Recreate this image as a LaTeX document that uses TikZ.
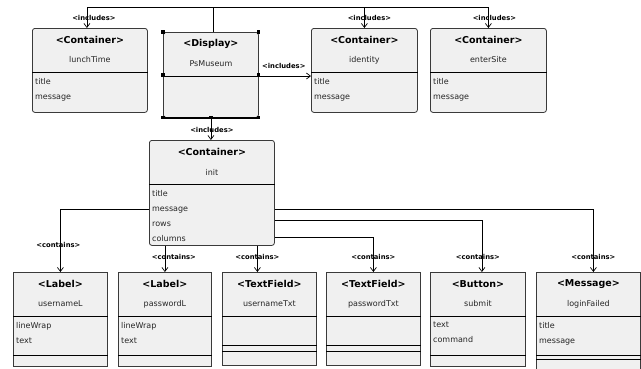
\documentclass[tikz,border=0pt]{standalone}
\usepackage{fontspec}
\setmainfont{DejaVu Sans}
\usetikzlibrary{arrows.meta,positioning,calc}
\definecolor{boxfill}{HTML}{F0F0F0}
\definecolor{boxline}{HTML}{3A3A3A}
\definecolor{tipgrey}{HTML}{777777}
\newcommand{\umlclass}[9]{%
  \node[classbox,#6,minimum width=#4,minimum height=#5] (#1) at (#2,#3) {};
  \draw[sepline] ([yshift=-44]#1.north west) -- ([yshift=-44]#1.north east);
  \node[stereo] at ([yshift=-12]#1.north) {<#7>};
  \node[objname] at ([yshift=-32]#1.north) {#8};
  \node[attrs] at ([xshift=2,yshift=-49]#1.north west) {#9};
}
\tikzset{>={Straight Barb[length=4pt,width=6pt]},classbox/.style={draw=boxline,fill=boxfill,anchor=north west,inner sep=0pt,line width=.8pt},roundbox/.style={rounded corners=2.5pt},sepline/.style={black,line width=.9pt},stereo/.style={font=\bfseries\fontsize{9.5}{11}\selectfont},objname/.style={font=\fontsize{8}{10}\selectfont,text=black!85},attrs/.style={anchor=north west,align=left,inner sep=1pt,font=\fontsize{8}{15}\selectfont,text=black!85},rel/.style={->,black,line width=.7pt},lbl/.style={font=\bfseries\fontsize{6.8}{8}\selectfont,inner sep=0pt}}

\begin{document}
\begin{tikzpicture}[x=1pt,y=-1pt]
\useasboundingbox (0,0) rectangle (641,368);
% top row
\umlclass{lunch}{32}{28}{115}{84}{roundbox}{Container}{lunchTime}{title\\message}
\umlclass{disp}{163}{32}{95}{85}{roundbox}{Display}{PsMuseum}{}
\umlclass{ident}{311}{28}{106}{84}{roundbox}{Container}{identity}{title\\message}
\umlclass{enter}{430}{28}{116}{84}{roundbox}{Container}{enterSite}{title\\message}
% selected box
\draw[line width=1.4pt] (disp.south west) -- (disp.south east);
\foreach \a in {north west,north east,west,east,south west,south,south east}
  \fill (disp.\a) +(-1.6,-1.6) rectangle +(1.6,1.6);
% middle
\umlclass{init}{149}{140}{125}{105}{roundbox}{Container}{init}{title\\message\\rows\\columns}
% bottom row
\umlclass{usrL}{13}{272}{94}{94}{}{Label}{usernameL}{lineWrap\\text}
\umlclass{pwdL}{118}{272}{93}{94}{}{Label}{passwordL}{lineWrap\\text}
\umlclass{usrT}{222}{272}{94}{93}{}{TextField}{usernameTxt}{}
\umlclass{pwdT}{326}{272}{94}{93}{}{TextField}{passwordTxt}{}
\umlclass{sub}{430}{272}{95}{94}{}{Button}{submit}{text\\command}
\umlclass{fail}{536}{272}{104}{100}{}{Message}{loginFailed}{title\\message}
\foreach \b/\d in {usrL/83,pwdL/83,usrT/73,usrT/79,pwdT/73,pwdT/79,sub/83,fail/83,fail/87}
  \draw[sepline] ([yshift=-\d]\b.north west) -- ([yshift=-\d]\b.north east);

% includes
\coordinate (bus) at (0,7);
\coordinate (dtop) at ([xshift=2]disp.north);
\draw[rel] (dtop) -- (dtop |- bus) -| ([xshift=-3]lunch.north);
\draw[rel] (dtop |- bus) -| (ident.north);
\draw[rel] (dtop |- bus) -| (enter.north);
\coordinate (dr) at ([yshift=-44]disp.north east);
\draw[rel] (dr) -- (dr -| ident.west);
\draw[rel] (disp.south) -- (disp.south |- init.north);
\node[lbl] (incL) at ([xshift=4,yshift=10]lunch.north) {<includes>};
\node[lbl] (incI) at ([xshift=5,yshift=10]ident.north) {<includes>};
\node[lbl] (incE) at ([xshift=6,yshift=10]enter.north) {<includes>};
\node[lbl] (incD) at ([xshift=25,yshift=10]dr) {<includes>};
\node[lbl] (incN) at ([yshift=10]init.north) {<includes>};

% contains
\coordinate (ut) at ([xshift=-12]usrT.north);
\draw[rel] ([yshift=-69]init.north west) -| (usrL.north);
\draw[rel] (init.south -| pwdL.north) -- (pwdL.north);
\draw[rel] (init.south -| ut) -- (ut);
\draw[rel] ([yshift=-69]init.north east) -| ([xshift=5]fail.north);
\draw[rel] ([yshift=-80]init.north east) -| ([xshift=4]sub.north);
\draw[rel] ([yshift=-97]init.north east) -| (pwdT.north);
\node[lbl] (conA) at ([xshift=-2,yshift=27]usrL.north) {<contains>};
\node[lbl] (conB) at ([xshift=9,yshift=15]pwdL.north) {<contains>};
\node[lbl] (conC) at ([yshift=15]ut) {<contains>};
\node[lbl] (conD) at ([yshift=15]pwdT.north) {<contains>};
\node[lbl] (conE) at ([xshift=0,yshift=15]sub.north) {<contains>};
\node[lbl] (conF) at ([xshift=5,yshift=15]fail.north) {<contains>};
\end{tikzpicture}
\end{document}
